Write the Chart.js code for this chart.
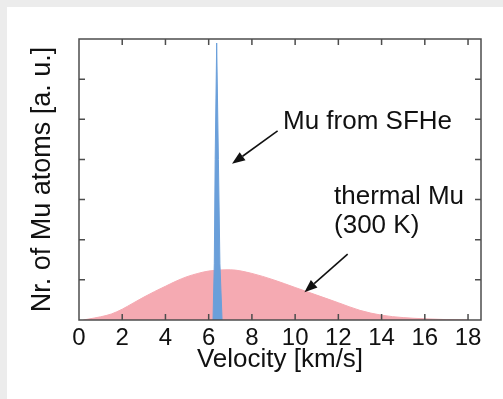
<!DOCTYPE html>
<html>
<head>
<meta charset="utf-8">
<script src="https://cdn.jsdelivr.net/npm/chart.js@4/dist/chart.umd.min.js"></script>
<style>
  html, body { margin: 0; padding: 0; background: #ececec; }
  #wrap { position: absolute; left: 7px; top: 7px; width: 496px; height: 392px; background: #ffffff; }
</style>
</head>
<body>
<div id="wrap"><canvas id="chart"></canvas></div>
<script>
// thermal Mu (300 K) velocity distribution
const thermalVelocity = [0.2, 0.4, 1, 1.5, 2, 2.5, 3, 3.5, 4, 4.5, 5, 5.5, 6, 6.8, 7, 8, 9, 10, 11, 12, 13, 14, 15, 16, 17, 18];
const thermalCounts = [0, 0.02, 0.08, 0.15, 0.27, 0.42, 0.57, 0.71, 0.84, 0.97, 1.08, 1.16, 1.22, 1.25, 1.25, 1.16, 1.0, 0.81, 0.62, 0.43, 0.24, 0.12, 0.06, 0.03, 0.01, 0];

// Mu from superfluid helium: a narrow spike
const sfheVelocity = [6.2, 6.26, 6.3, 6.37, 6.45, 6.52, 6.62];
const sfheCounts = [0, 1.4, 4.0, 6.9, 4.0, 1.4, 0];

const xTicks = [0, 2, 4, 6, 8, 10, 12, 14, 16, 18];
const yTicks = [0, 1, 2, 3, 4, 5, 6, 7];

const FONT = '"Liberation Sans", Arial, Helvetica, sans-serif';
const FRAME = "#4d4d4d";

const annotations = [
  { text: ["Mu from SFHe"], x: 9.44, y: 4.76, tail: [9.19, 4.71], head: [7.08, 3.89] },
  { text: ["thermal Mu", "(300 K)"], x: 11.8, y: 2.89, tail: [12.43, 1.64], head: [10.43, 0.69] },
];

const toPoints = (xs, ys) => xs.map((x, i) => ({ x: x, y: ys[i] }));

// frame with inward ticks on all four sides
const framePlugin = {
  id: "frame",
  afterDatasetsDraw(chart) {
    const { ctx, chartArea: a, scales: { x, y } } = chart;
    const len = 6;
    ctx.save();
    ctx.strokeStyle = FRAME;
    ctx.lineWidth = 1.5;
    ctx.strokeRect(a.left, a.top, a.right - a.left, a.bottom - a.top);
    ctx.beginPath();
    xTicks.forEach(v => {
      const px = x.getPixelForValue(v);
      if (px <= a.left + 1 || px >= a.right - 1) return;
      ctx.moveTo(px, a.bottom); ctx.lineTo(px, a.bottom - len);
      ctx.moveTo(px, a.top); ctx.lineTo(px, a.top + len);
    });
    yTicks.forEach(v => {
      const py = y.getPixelForValue(v);
      if (py <= a.top + 1 || py >= a.bottom - 1) return;
      ctx.moveTo(a.left, py); ctx.lineTo(a.left + len, py);
      ctx.moveTo(a.right, py); ctx.lineTo(a.right - len, py);
    });
    ctx.stroke();
    ctx.restore();
  },
};

// text labels with arrows
const annotationPlugin = {
  id: "notes",
  afterDraw(chart) {
    const { ctx, scales: { x, y } } = chart;
    ctx.save();
    ctx.fillStyle = "#111";
    ctx.strokeStyle = "#111";
    ctx.font = "26px " + FONT;
    ctx.textAlign = "left";
    ctx.textBaseline = "alphabetic";
    annotations.forEach(n => {
      const tx = x.getPixelForValue(n.x);
      const ty = y.getPixelForValue(n.y);
      n.text.forEach((line, i) => ctx.fillText(line, tx, ty + i * 29));

      const x0 = x.getPixelForValue(n.tail[0]), y0 = y.getPixelForValue(n.tail[1]);
      const x1 = x.getPixelForValue(n.head[0]), y1 = y.getPixelForValue(n.head[1]);
      const ang = Math.atan2(y1 - y0, x1 - x0);
      const hl = 13, hw = 5;
      const bx = x1 - hl * Math.cos(ang), by = y1 - hl * Math.sin(ang);
      ctx.lineWidth = 1.6;
      ctx.beginPath();
      ctx.moveTo(x0, y0);
      ctx.lineTo(bx, by);
      ctx.stroke();
      ctx.beginPath();
      ctx.moveTo(x1, y1);
      ctx.lineTo(bx + hw * Math.sin(ang), by - hw * Math.cos(ang));
      ctx.lineTo(bx - hw * Math.sin(ang), by + hw * Math.cos(ang));
      ctx.closePath();
      ctx.fill();
    });
    ctx.restore();
  },
};

new Chart(document.getElementById("chart"), {
  type: "line",
  data: {
    datasets: [
      {
        label: "Mu from SFHe",
        data: toPoints(sfheVelocity, sfheCounts),
        borderColor: "#6a9fda",
        backgroundColor: "#6a9fda",
        borderWidth: 1,
        fill: "origin",
        tension: 0,
        pointRadius: 0,
        order: 0,
      },
      {
        label: "thermal Mu (300 K)",
        data: toPoints(thermalVelocity, thermalCounts),
        borderColor: "#f5aab2",
        backgroundColor: "#f5aab2",
        borderWidth: 1,
        fill: "origin",
        cubicInterpolationMode: "monotone",
        pointRadius: 0,
        order: 1,
      },
    ],
  },
  options: {
    responsive: true,
    maintainAspectRatio: false,
    animation: false,
    events: [],
    layout: { padding: { top: 32, right: 22, left: 0, bottom: 0 } },
    plugins: {
      legend: { display: false },
      tooltip: { enabled: false },
    },
    scales: {
      x: {
        type: "linear",
        min: 0,
        max: 18.6,
        afterBuildTicks: scale => { scale.ticks = xTicks.map(v => ({ value: v })); },
        afterFit: scale => { scale.height = 79; },
        grid: { display: false, drawTicks: false },
        border: { display: false },
        ticks: {
          color: "#111",
          padding: 4,
          maxRotation: 0,
          font: { size: 24, family: FONT },
        },
        title: {
          display: true,
          text: "Velocity [km/s]",
          color: "#111",
          padding: { top: 0, bottom: 24 },
          font: { size: 26, family: FONT, lineHeight: 1.2 },
        },
      },
      y: {
        type: "linear",
        min: 0,
        max: 7,
        afterBuildTicks: scale => { scale.ticks = yTicks.map(v => ({ value: v })); },
        afterFit: scale => { scale.width = 72; },
        grid: { display: false, drawTicks: false },
        border: { display: false },
        ticks: { display: false },
        title: {
          display: true,
          text: "Nr. of Mu atoms [a. u.]",
          color: "#111",
          padding: { top: 19, bottom: 0 },
          font: { size: 27, family: FONT, lineHeight: 1.2 },
        },
      },
    },
  },
  plugins: [framePlugin, annotationPlugin],
});
</script>
</body>
</html>
